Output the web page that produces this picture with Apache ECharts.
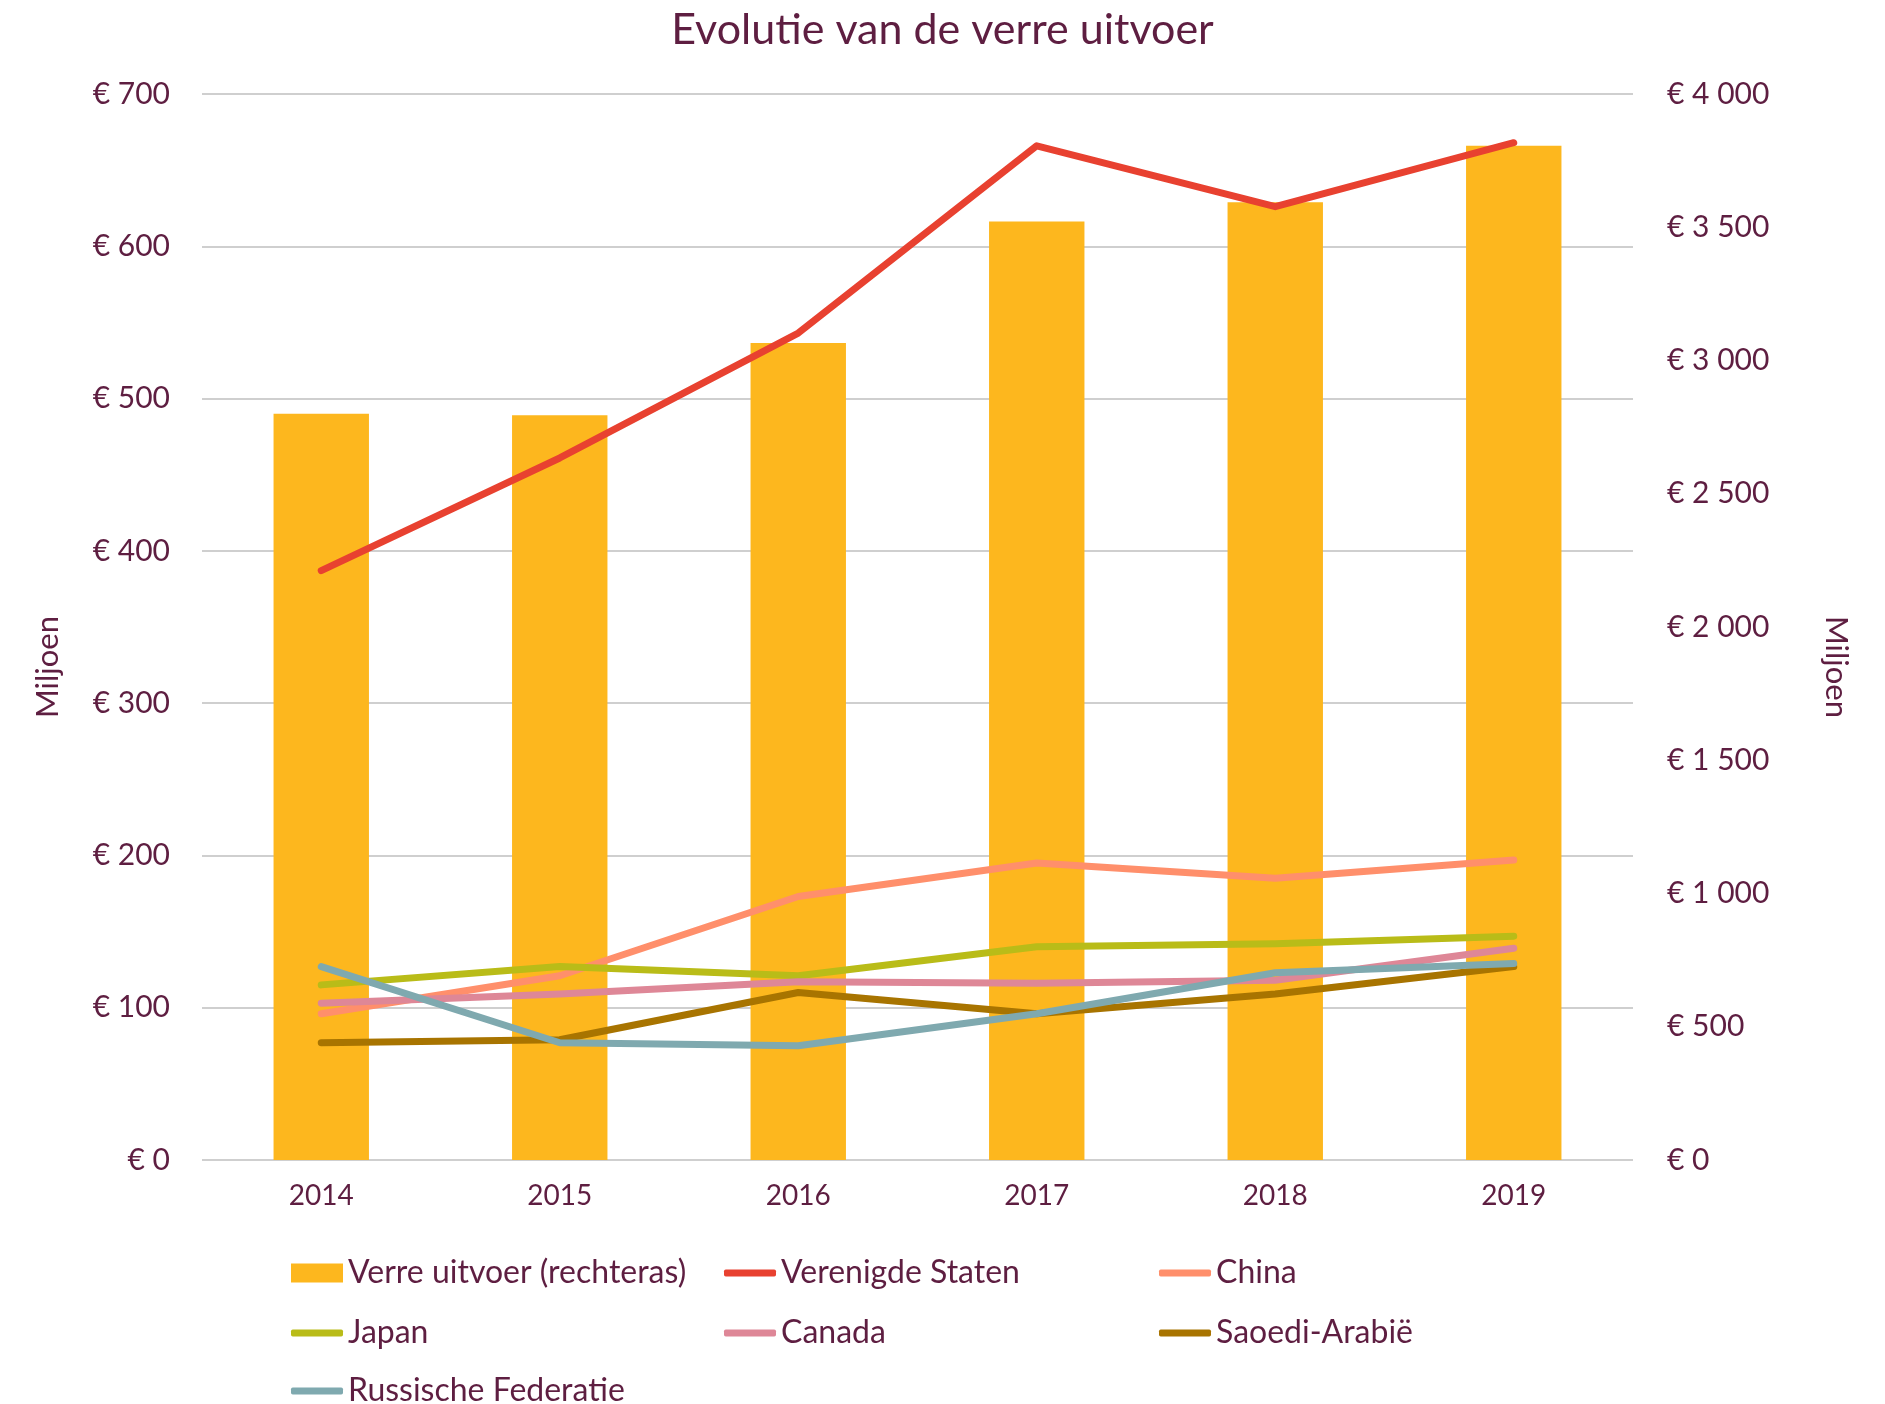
<!DOCTYPE html>
<html>
<head>
<meta charset="utf-8">
<script src="https://cdn.jsdelivr.net/npm/echarts@6/dist/echarts.min.js"></script>
<style>
html,body{margin:0;padding:0;background:#fff;}
#chart{width:1885px;height:1404px;}
</style>
</head>
<body>
<div id="chart"></div>
<script>
var jaren = ['2014','2015','2016','2017','2018','2019'];
var verreUitvoer = [2800, 2795, 3066, 3522, 3594, 3806];
var verenigdeStaten = [387, 461, 543, 666, 626, 668];
var china = [96, 121, 173, 195, 185, 197];
var japan = [115, 127, 121, 140, 142, 147];
var canada = [103, 109, 117, 116, 118, 139];
var saoediArabie = [77, 79, 110, 96, 109, 127];
var russischeFederatie = [127, 77, 75, 96, 123, 129];

var tekstkleur = '#5E1E41',
	font = 'Lato',
	ticksize = 28, yticksize = 30, legsize = 32, lijndikte = 7;

function euro(v){
	return '€ ' + String(v).replace(/\B(?=(\d{3})+(?!\d))/g, ' ');
}

function lijn(naam, data, kleur){
	return {
		name: naam,
		type: 'line',
		yAxisIndex: 0,
		data: data,
		symbol: 'none',
		color: kleur,
		lineStyle: {width: lijndikte, color: kleur, cap: 'round', join: 'round'},
		z: 3
	};
}

// een legenda per item, zodat de kolommen vast staan
function leg(naam, x, y, isBar){
	return {
		left: x,
		top: y,
		itemWidth: 52,
		itemHeight: isBar ? 19 : 7,
		icon: isBar ? 'rect' : 'roundRect',
		textStyle: {color: tekstkleur, fontSize: legsize, fontFamily: font},
		data: [naam]
	};
}

var chart = echarts.init(document.getElementById('chart'));

var option = {
	animation: false,
	textStyle: {fontFamily: font, color: tekstkleur},
	title: {
		text: 'Evolutie van de verre uitvoer',
		left: 'center',
		top: 4,
		textStyle: {color: tekstkleur, fontSize: 43, fontWeight: 'normal', fontFamily: font}
	},
	grid: {left: 202, right: 252, top: 94, bottom: 244},
	legend: [
		leg('Verre uitvoer (rechteras)', 286, 1252, true),
		leg('Verenigde Staten', 719, 1252),
		leg('China', 1154, 1252),
		leg('Japan', 286, 1312),
		leg('Canada', 719, 1312),
		leg('Saoedi-Arabië', 1154, 1312),
		leg('Russische Federatie', 286, 1370)
	],
	graphic: [
		{
			type: 'text', x: 48, y: 667, rotation: Math.PI / 2,
			style: {text: 'Miljoen', fill: tekstkleur, fontSize: 31, fontFamily: font, align: 'center', verticalAlign: 'middle'}
		},
		{
			type: 'text', x: 1836, y: 667, rotation: -Math.PI / 2,
			style: {text: 'Miljoen', fill: tekstkleur, fontSize: 31, fontFamily: font, align: 'center', verticalAlign: 'middle'}
		}
	],
	xAxis: {
		type: 'category',
		data: jaren,
		axisLine: {show: false},
		axisTick: {show: false},
		axisLabel: {color: tekstkleur, fontSize: ticksize, margin: 22}
	},
	yAxis: [
		{
			type: 'value',
			min: 0, max: 700, interval: 100,
			position: 'left',
			axisLabel: {color: tekstkleur, fontSize: yticksize, margin: 32, formatter: euro},
			splitLine: {lineStyle: {color: '#BFBFBF', width: 1.5}}
		},
		{
			type: 'value',
			min: 0, max: 4000, interval: 500,
			position: 'right',
			axisLabel: {color: tekstkleur, fontSize: yticksize, margin: 34, formatter: euro},
			splitLine: {show: false}
		}
	],
	series: [
		{
			name: 'Verre uitvoer (rechteras)',
			type: 'bar',
			yAxisIndex: 1,
			data: verreUitvoer,
			barWidth: '40%',
			color: '#FDB71E',
			itemStyle: {color: '#FDB71E'},
			z: 2
		},
		lijn('Verenigde Staten', verenigdeStaten, '#E84130'),
		lijn('China', china, '#FF8F6B'),
		lijn('Japan', japan, '#B9BC18'),
		lijn('Canada', canada, '#DE8797'),
		lijn('Saoedi-Arabië', saoediArabie, '#A87400'),
		lijn('Russische Federatie', russischeFederatie, '#7FA9AF')
	]
};
chart.setOption(option);
</script>
</body>
</html>
